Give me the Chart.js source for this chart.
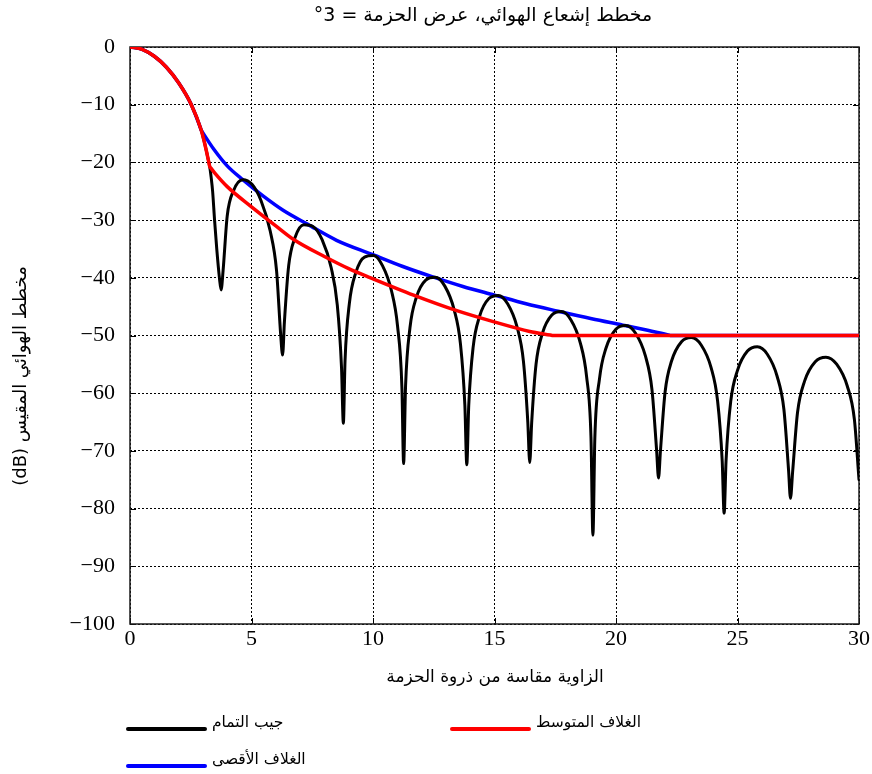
<!DOCTYPE html>
<html><head><meta charset="utf-8">
<script src="https://cdn.jsdelivr.net/npm/chart.js@4/dist/chart.umd.min.js"></script>
<style>html,body{margin:0;padding:0;background:#fff}canvas{display:block}</style>
</head><body>
<canvas id="c" width="872" height="774"></canvas>
<script>
const chartTitle = 'مخطط إشعاع الهوائي، عرض الحزمة = 3°';
const xTitle = 'الزاوية مقاسة من ذروة الحزمة';
const yTitle = 'مخطط الهوائي المقيس (dB)';
const seriesNames = ['جيب التمام', 'الغلاف المتوسط', 'الغلاف الأقصى'];
const seriesColors = ['#000000', '#ff0000', '#0000ff'];
const xTicks = [0, 5, 10, 15, 20, 25, 30];
const yTicks = [0, -10, -20, -30, -40, -50, -60, -70, -80, -90, -100];

// Cosine pattern (black)
const cosX = [0, 0.5, 1.0, 1.5, 2.0, 2.5, 2.93, 3.1, 3.22, 3.28, 3.34, 3.4, 3.48, 3.57, 3.68, 3.75,
  3.83, 4.00, 4.26, 4.64, 5.02, 5.39, 5.77, 6.03, 6.20, 6.28,
  6.355, 6.53, 6.78, 7.155, 7.53, 7.905, 8.28, 8.53, 8.705, 8.78,
  8.85, 9.03, 9.28, 9.65, 10.02, 10.39, 10.76, 11.01, 11.19, 11.26,
  11.34, 11.52, 11.78, 12.17, 12.56, 12.95, 13.34, 13.60, 13.78, 13.86,
  13.94, 14.12, 14.38, 14.77, 15.155, 15.54, 15.93, 16.19, 16.37, 16.45,
  16.53, 16.71, 16.97, 17.36, 17.75, 18.14, 18.53, 18.79, 18.97, 19.05,
  19.13, 19.32, 19.59, 19.995, 20.40, 20.805, 21.21, 21.48, 21.67, 21.75,
  21.83, 22.02, 22.29, 22.695, 23.10, 23.505, 23.91, 24.18, 24.37, 24.45,
  24.53, 24.72, 25.00, 25.41, 25.815, 26.22, 26.63, 26.91, 27.10, 27.18,
  27.27, 27.47, 27.76, 28.20, 28.64, 29.08, 29.52, 29.81, 30.0];
const cosY = [0, -0.4, -1.6, -3.5, -6.2, -9.8, -14.4, -17.2, -19.5, -20.7, -22.6, -25, -30, -35, -40, -42.1,
  -38.8, -29.3, -24.9, -23.0, -23.8, -26.6, -31.9, -38.7, -49.8, -53.4,
  -47.6, -37.9, -33.15, -30.8, -31.1, -33.4, -38.25, -44.7, -55.6, -65.2,
  -54.3, -44.35, -39.25, -36.4, -36.15, -37.9, -42.25, -48.35, -59.0, -72.2,
  -58.75, -48.7, -43.45, -40.4, -39.9, -41.4, -45.55, -51.5, -62.05, -72.4,
  -62.1, -52.05, -46.75, -43.6, -43.05, -44.5, -48.55, -54.45, -64.96, -72.0,
  -65.1, -54.97, -49.64, -46.45, -45.85, -47.26, -51.26, -57.13, -67.6, -84.6,
  -67.67, -57.53, -52.16, -48.9, -48.25, -49.6, -53.54, -59.37, -69.83, -74.7,
  -69.96, -59.79, -54.38, -51.07, -50.35, -51.64, -55.52, -61.31, -71.74, -80.8,
  -71.65, -61.47, -56.04, -52.7, -51.95, -53.2, -57.06, -62.83, -73.25, -78.2,
  -73.55, -63.35, -57.9, -54.53, -53.75, -54.98, -58.8, -64.55, -75.0];

// Average envelope (red)
const avgX = [0, 0.5, 1.0, 1.5, 2.0, 2.5, 2.93, 3.1, 3.22, 3.28, 3.33, 3.5, 4.0, 5.0, 6.0, 6.75, 8.0, 9.0, 9.9, 11.67, 13.45, 14.95, 16.45, 17.3, 17.41, 17.5, 30];
const avgY = [0, -0.4, -1.6, -3.5, -6.2, -9.8, -14.4, -17.2, -19.5, -20.7, -21.0, -21.9, -24.2, -27.7, -31.0, -33.4, -36.3, -38.4, -40.0, -43.0, -45.7, -47.6, -49.3, -49.92, -50, -50, -50];

// Peak envelope (blue)
const peakX = [0, 0.5, 1.0, 1.5, 2.0, 2.5, 2.88, 2.93, 2.98, 3.48, 4.0, 4.64, 5.5, 6.3, 7.3, 8.5, 10.0, 11.2, 12.43, 13.7, 15.0, 16.3, 17.62, 19.0, 20.28, 21.3, 22.2, 22.26, 22.35, 30];
const peakY = [0, -0.4, -1.6, -3.5, -6.2, -9.8, -13.8, -14.4, -14.75, -17.9, -20.6, -23.0, -25.9, -28.3, -30.7, -33.5, -36.0, -38.0, -39.8, -41.5, -43.0, -44.5, -45.8, -47.1, -48.2, -49.1, -49.95, -50, -50, -50];

const SERIF = "'Liberation Serif', 'Times New Roman', serif";
const ARABIC = "'DejaVu Sans', sans-serif";

function pts(xs, ys) { return xs.map((x, i) => ({ x: x, y: ys[i] })); }
function fmt(v) { return v < 0 ? '\u2212' + Math.abs(v) : String(v); }

function rtlText(ctx, text, x, y, font, align, rotate) {
  ctx.save();
  ctx.font = font;
  ctx.fillStyle = '#000';
  ctx.direction = 'rtl';
  ctx.textAlign = align;
  ctx.textBaseline = 'middle';
  if (rotate) { ctx.translate(x, y); ctx.rotate(-Math.PI / 2); ctx.fillText(text, 0, 0); }
  else ctx.fillText(text, x, y);
  ctx.restore();
}

const framePlugin = {
  id: 'frame',
  beforeDatasetsDraw(chart) {
    const ctx = chart.ctx, a = chart.chartArea;
    const xs = chart.scales.x, ys = chart.scales.y;
    ctx.save();
    ctx.strokeStyle = '#000';
    ctx.lineWidth = 1;
    ctx.beginPath();
    xTicks.forEach(v => {
      const px = Math.round(xs.getPixelForValue(v)) + 0.5;
      ctx.moveTo(px, a.bottom); ctx.lineTo(px, a.bottom - 6);
      ctx.moveTo(px, a.top); ctx.lineTo(px, a.top + 6);
    });
    yTicks.forEach(v => {
      const py = Math.round(ys.getPixelForValue(v)) + 0.5;
      ctx.moveTo(a.left, py); ctx.lineTo(a.left + 6, py);
      ctx.moveTo(a.right, py); ctx.lineTo(a.right - 6, py);
    });
    ctx.stroke();
    ctx.lineWidth = 1.5;
    ctx.strokeStyle = '#1a1a1a';
    ctx.strokeRect(a.left, a.top, a.right - a.left, a.bottom - a.top);
    ctx.restore();
  },
  afterDraw(chart) {
    const ctx = chart.ctx, a = chart.chartArea;
    rtlText(ctx, chartTitle, 483, 16, '19px ' + ARABIC, 'center');
    rtlText(ctx, xTitle, 495, 678, '17px ' + ARABIC, 'center');
    rtlText(ctx, yTitle, 21, 376, '18px ' + ARABIC, 'center', true);
    // legend
    const items = [
      { i: 0, x: 128, y: 729 },
      { i: 1, x: 452, y: 729 },
      { i: 2, x: 128, y: 766 }
    ];
    items.forEach(it => {
      ctx.save();
      ctx.strokeStyle = seriesColors[it.i];
      ctx.lineWidth = 4;
      ctx.lineCap = 'round';
      ctx.beginPath();
      ctx.moveTo(it.x, it.y); ctx.lineTo(it.x + 77, it.y);
      ctx.stroke();
      ctx.restore();
      rtlText(ctx, seriesNames[it.i], it.x + 84, it.y - 6, '15.5px ' + ARABIC, 'left');
    });
  }
};

new Chart(document.getElementById('c'), {
  type: 'line',
  data: {
    datasets: [
      { label: seriesNames[1], data: pts(avgX, avgY), borderColor: seriesColors[1], borderWidth: 3.5, order: 0 },
      { label: seriesNames[0], data: pts(cosX, cosY), borderColor: seriesColors[0], borderWidth: 3, order: 1 },
      { label: seriesNames[2], data: pts(peakX, peakY), borderColor: seriesColors[2], borderWidth: 3.5, order: 2 }
    ]
  },
  options: {
    responsive: false,
    animation: false,
    devicePixelRatio: 1,
    layout: { padding: { left: 0, top: 47, right: 13, bottom: 0 } },
    elements: {
      point: { radius: 0 },
      line: { cubicInterpolationMode: 'monotone', fill: false, borderCapStyle: 'round', borderJoinStyle: 'round' }
    },
    plugins: { legend: { display: false }, tooltip: { enabled: false }, title: { display: false } },
    scales: {
      x: {
        type: 'linear', min: 0, max: 30,
        afterBuildTicks: s => { s.ticks = xTicks.map(v => ({ value: v })); },
        afterFit: s => { s.height = 150; },
        ticks: { font: { family: SERIF, size: 22 }, color: '#000', padding: 2, maxRotation: 0, callback: v => fmt(v) },
        grid: { color: '#000', lineWidth: 1, drawTicks: false },
        border: { display: false, dash: [2, 2] }
      },
      y: {
        type: 'linear', min: -100, max: 0,
        afterBuildTicks: s => { s.ticks = yTicks.map(v => ({ value: v })); },
        afterFit: s => { s.width = 130; },
        ticks: { font: { family: SERIF, size: 22 }, color: '#000', padding: 15, callback: v => fmt(v) },
        grid: { color: '#000', lineWidth: 1, drawTicks: false },
        border: { display: false, dash: [2, 2] }
      }
    }
  },
  plugins: [framePlugin]
});
</script>
</body></html>
